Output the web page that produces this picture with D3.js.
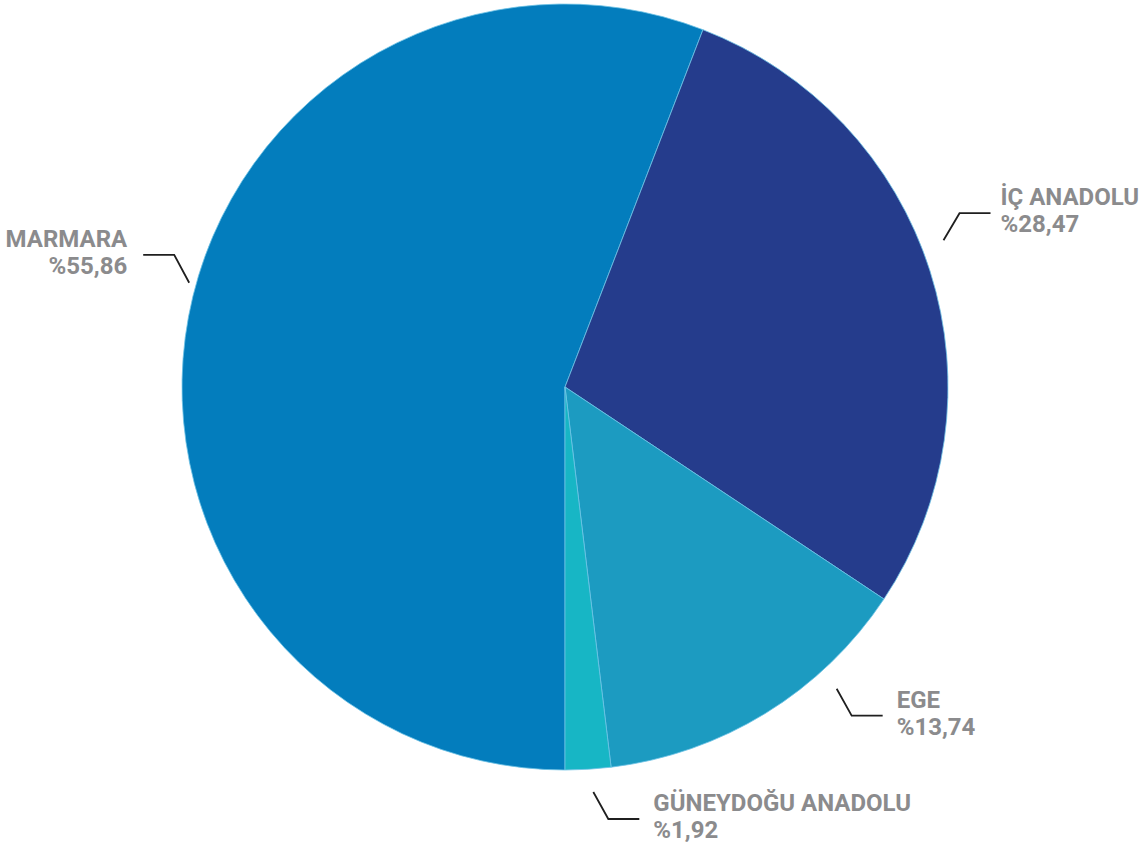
<!DOCTYPE html>
<html><head><meta charset="utf-8">
<script src="https://cdn.jsdelivr.net/npm/d3@7"></script>
<style>html,body{margin:0;padding:0;background:#fff;}</style>
</head><body>
<svg id="c" width="1142" height="850"></svg>
<script>
const categories = ["MARMARA", "İÇ ANADOLU", "EGE", "GÜNEYDOĞU ANADOLU"];
const values = [55.86, 28.47, 13.74, 1.92];
const valueLabels = ["%55,86", "%28,47", "%13,74", "%1,92"];
const colors = ["#037dbd", "#253c8c", "#1c9bc1", "#17b6c5"];
// label placement: angle (deg, clockwise from 12 o'clock) where leader starts, side of elbow
const labelAngles = [285.5, 68.8, 138, 176];
const labelSides = [-1, 1, 1, 1];

const svg = d3.select("#c");
const cx = 565, cy = 387, R = 383;
const g = svg.append("g").attr("transform", `translate(${cx},${cy})`);

const pie = d3.pie().sort(null).value(d => d)
  .startAngle(Math.PI).endAngle(3 * Math.PI);
const arcs = pie(values);
const arc = d3.arc().innerRadius(0).outerRadius(R);

g.selectAll("path").data(arcs).enter().append("path")
  .attr("d", arc).attr("fill", (d, i) => colors[i])
  .attr("stroke", "#6fc3e6").attr("stroke-width", 0.8);

const font = "Roboto,'Noto Sans',sans-serif";
categories.forEach((c, i) => {
  const a = labelAngles[i] * Math.PI / 180;
  const r0 = R + 7 + (i === 0 ? 0 : 16);
  const x0 = r0 * Math.sin(a), y0 = -r0 * Math.cos(a);
  const side = labelSides[i];
  const dy = (i === 1) ? -27 : (i === 0 ? -28 : 27);
  const dx = (i === 0) ? -15 : (i === 1 ? 16 : 15);
  const x1 = x0 + dx, y1 = y0 + dy;
  const x2 = x1 + side * 31;
  g.append("path")
    .attr("d", `M${x0},${y0}L${x1},${y1}L${x2},${y1}`)
    .attr("fill", "none").attr("stroke", "#1f1f1f").attr("stroke-width", 1.8);
  const tx = x2 + side * (i === 0 ? 16 : (i === 1 ? 10 : 14));
  const t = g.append("text")
    .attr("x", tx).attr("y", y1 - 8)
    .attr("text-anchor", side < 0 ? "end" : "start")
    .attr("font-family", font).attr("font-weight", "bold")
    .attr("font-size", 24).attr("fill", "#8b8b8d");
  t.append("tspan").attr("x", tx).attr("dy", 0).text(c);
  t.append("tspan").attr("x", tx).attr("dy", 27).text(valueLabels[i]);
});
</script>
</body></html>
